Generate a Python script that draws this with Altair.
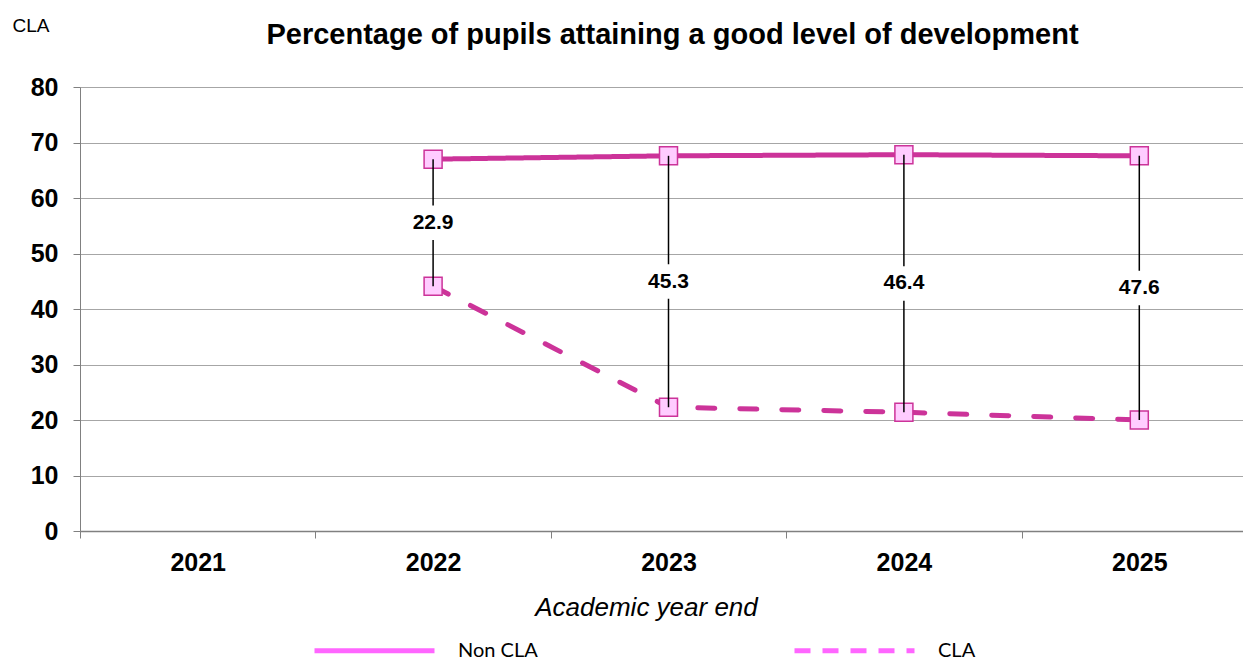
import altair as alt
import pandas as pd

# ---- data ----
years = ["2021", "2022", "2023", "2024", "2025"]
non_cla = [None, 67.0, 67.6, 67.8, 67.6]
cla = [None, 44.1, 22.3, 21.4, 20.0]
series_names = ["Non CLA", "CLA"]

FONT = "Liberation Sans"
LINE = "#CC3399"
FILL = "#FFCCFF"
LEG = "#FF66FF"

wide = pd.DataFrame({"year": years, "non": non_cla, "cla": cla})
long = pd.concat([
    pd.DataFrame({"year": years, "series": "Non CLA", "value": non_cla}),
    pd.DataFrame({"year": years, "series": "CLA", "value": cla}),
]).dropna()
gaps = wide.dropna().copy()
gaps["mid"] = (gaps["non"] + gaps["cla"]) / 2
gaps["label"] = (gaps["non"] - gaps["cla"]).map(lambda v: f"{v:.1f}")

x = alt.X(
    "year:N",
    scale=alt.Scale(type="band", domain=years, paddingInner=0, paddingOuter=0, range=[0, 1177]),
    axis=alt.Axis(
        title="Academic year end", labelAngle=0, tickBand="extent",
        labelFont=FONT, labelFontSize=25, labelFontWeight="bold", labelColor="black",
        labelPadding=12, tickSize=7, tickColor="#808080", domainColor="#808080",
        domainWidth=1.5, grid=False,
        titleFont=FONT, titleFontSize=26, titleFontStyle="italic", titleFontWeight="normal",
        titleColor="black", titleBaseline="alphabetic", titleY=84, titleX=566,
    ),
)
yaxis = alt.Axis(
    values=list(range(0, 81, 10)), title="CLA", titleAngle=0, titleX=-68, titleY=-62,
    titleAlign="left", titleBaseline="middle", titleFont=FONT, titleFontSize=19,
    titleFontWeight="normal", titleColor="black",
    labelFont=FONT, labelFontSize=25, labelFontWeight="bold", labelColor="black",
    labelPadding=15, tickSize=7, tickColor="#808080", domainColor="#808080",
    grid=True, gridColor="#A6A6A6", gridWidth=1,
)
yscale = alt.Scale(domain=[0, 80], nice=False)

lines = alt.Chart(long).mark_line(strokeWidth=5, color=LINE, strokeCap="round").encode(
    x=x,
    y=alt.Y("value:Q", scale=yscale, axis=yaxis),
    strokeDash=alt.StrokeDash("series:N", scale=alt.Scale(domain=series_names, range=[[1, 0], [17, 25]]), legend=None),
)

points = alt.Chart(long).mark_point(
    shape="square", size=324, filled=True, fill=FILL, stroke=LINE, strokeWidth=1.5, opacity=1
).encode(x=x, y=alt.Y("value:Q", scale=yscale))

rules = alt.Chart(gaps).mark_rule(color="black", strokeWidth=1.5).encode(
    x=x, y=alt.Y("non:Q", scale=yscale), y2="cla:Q"
)

boxes = alt.Chart(gaps).mark_point(
    shape="M-1,-0.75H1V0.75H-1Z", size=2116, filled=True, fill="white", opacity=1, strokeWidth=0
).encode(x=x, y=alt.Y("mid:Q", scale=yscale))

labels = alt.Chart(gaps).mark_text(
    font=FONT, fontSize=21, fontWeight="bold", color="black", baseline="middle"
).encode(x=x, y=alt.Y("mid:Q", scale=yscale), text="label:N")

legend_def = alt.Legend(
    title=None, orient="none", legendX=232, legendY=501, direction="horizontal", columns=2,
    symbolType="stroke", symbolSize=14400, symbolStrokeWidth=5, labelFont="Lato",
    labelFontSize=20, labelColor="black", labelOffset=21, columnPadding=246,
    labelBaseline="middle",
)
legend_layer = alt.Chart(long).transform_filter("false").mark_line(strokeWidth=5).encode(
    x=x,
    y=alt.Y("value:Q", scale=yscale),
    color=alt.Color("series:N", scale=alt.Scale(domain=series_names, range=[LEG, LEG]), legend=legend_def),
    strokeDash=alt.StrokeDash("series:N", scale=alt.Scale(domain=series_names, range=[[1, 0], [16, 12]]), legend=legend_def),
)

chart = alt.layer(lines, points, rules, boxes, labels, legend_layer).resolve_scale(
    strokeDash="independent", color="independent"
).properties(
    width=1163, height=444,
    title=alt.Title(
        "Percentage of pupils attaining a good level of development",
        font=FONT, fontSize=29, fontWeight="bold", color="black", anchor="middle",
        frame="group", offset=-57, dx=11, baseline="alphabetic",
    ),
    autosize=alt.AutoSizeParams(type="none"),
    padding={"left": 72, "top": 79, "right": 0, "bottom": 130},
).configure_view(stroke=None).configure(background="white")

chart.save("out.html", embed_options={"renderer": "svg", "actions": False})
